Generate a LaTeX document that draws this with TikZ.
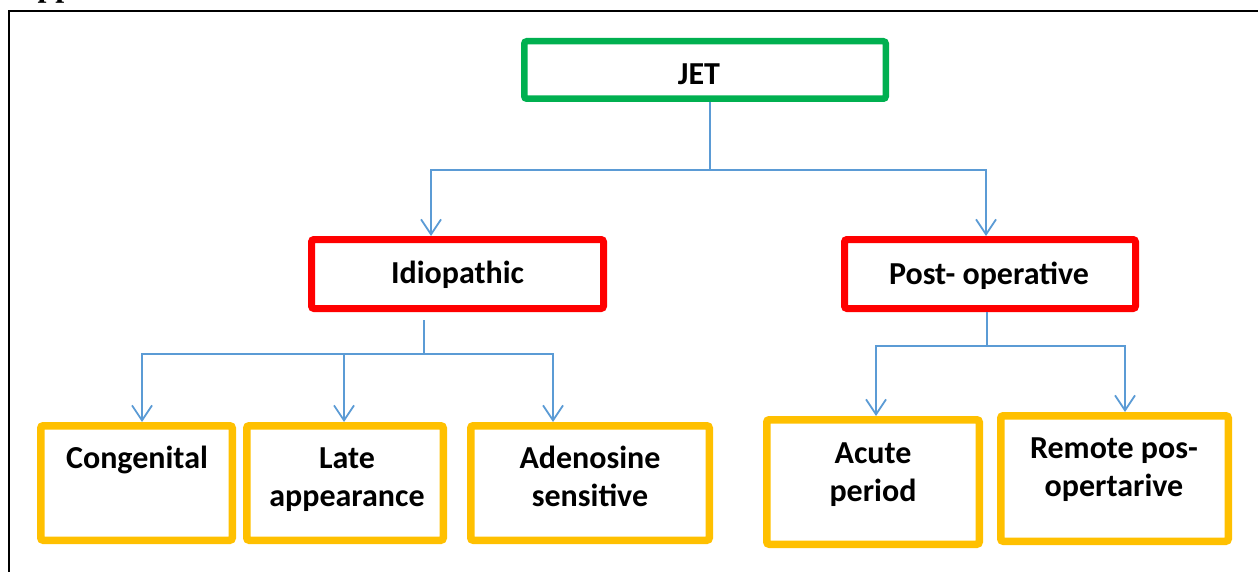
\documentclass[tikz,border=0pt]{standalone}
\usepackage{fontspec}
\setmainfont{Carlito}
\newfontfamily\hdrfont{Liberation Serif}
\usetikzlibrary{arrows.meta}
\definecolor{jetgreen}{RGB}{0,176,80}
\definecolor{boxred}{RGB}{255,0,0}
\definecolor{boxgold}{RGB}{255,192,0}
\definecolor{connblue}{RGB}{91,155,213}
\tikzset{
  box/.style={draw, rounded corners=2.5pt, inner sep=0pt},
  topbox/.style={box, draw=jetgreen, line width=6.5pt},
  midbox/.style={box, draw=boxred, line width=7pt},
  leafbox/.style={box, draw=boxgold, line width=7.5pt},
  lbl/.style={inner sep=0pt, align=center, font=\fontsize{32}{38}\selectfont\bfseries},
  conn/.style={draw=connblue, line width=1.7pt},
  arr/.style={conn, -{Straight Barb[length=15pt,width=20pt,line width=1.8pt]}},
  frame/.style={draw=black, line width=2.5pt}
}
\begin{document}
\begin{tikzpicture}[x=1pt,y=-1pt]
\useasboundingbox (0,0) rectangle (1258,572);
% frame and cut heading
\coordinate (fbl) at (9,580);
\coordinate (ftr) at (1265,11);
\draw[frame] (fbl) |- (ftr);
\node[inner sep=0pt, anchor=base west, font=\hdrfont\fontsize{32}{38}\selectfont\bfseries] (hdr) at (37.5,-3.2) {pp};
% boxes
\node[topbox, minimum width=361.5pt, minimum height=57.5pt] (jet) at (705,70) {};
\node[midbox, minimum width=292pt, minimum height=69pt] (idio) at (457.5,274) {};
\node[midbox, minimum width=291pt, minimum height=69pt] (post) at (990,274) {};
\node[leafbox, minimum width=191.5pt, minimum height=114.5pt] (cong) at (136.5,483) {};
\node[leafbox, minimum width=196.5pt, minimum height=114.5pt] (late) at (345,483) {};
\node[leafbox, minimum width=238.5pt, minimum height=114.5pt] (adeno) at (590,483) {};
\node[leafbox, minimum width=212.5pt, minimum height=124.5pt] (acute) at (873,482) {};
\node[leafbox, minimum width=227.5pt, minimum height=125.5pt] (remote) at (1114.5,478.5) {};
% labels
\node[lbl] (jett) at (699,77.4) {\strut JET};
\node[lbl] (idiot) at (457.5,275.4) {\strut Idiopathic};
\node[lbl] (postt) at (989,276.4) {\strut Post- operative};
\node[lbl] (congt) at (137,460.4) {\strut Congenital};
\node[lbl] (latet) at (347,479.4) {\strut Late\\\strut appearance};
\node[lbl] (adenot) at (590,479.4) {\strut Adenosine\\\strut sensitive};
\node[lbl] (acutet) at (873,474.4) {\strut Acute\\\strut period};
\node[lbl] (remotet) at (1114,469.4) {\strut Remote pos-\\\strut opertarive};
% connectors
\coordinate (j1) at (710,170);
\draw[conn] ([xshift=5pt]jet.south) -- (j1);
\draw[arr] (j1) -| ([xshift=-26.5pt]idio.north);
\draw[arr] (j1) -| ([xshift=-4pt]post.north);
\coordinate (i0) at (424,320);
\coordinate (i1) at (424,354);
\draw[conn] (i0) -- (i1);
\draw[arr] (i1) -| ([xshift=5.5pt]cong.north);
\draw[arr] ([xshift=-1pt]late.north |- i1) -- ([xshift=-1pt]late.north);
\draw[arr] (i1) -| ([xshift=-37pt]adeno.north);
\coordinate (p1) at (987,346);
\draw[conn] ([xshift=-3pt]post.south) -- (p1);
\draw[arr] (p1) -| ([xshift=3pt]acute.north);
\draw[arr] (p1) -| ([xshift=10.5pt]remote.north);
\end{tikzpicture}
\end{document}
